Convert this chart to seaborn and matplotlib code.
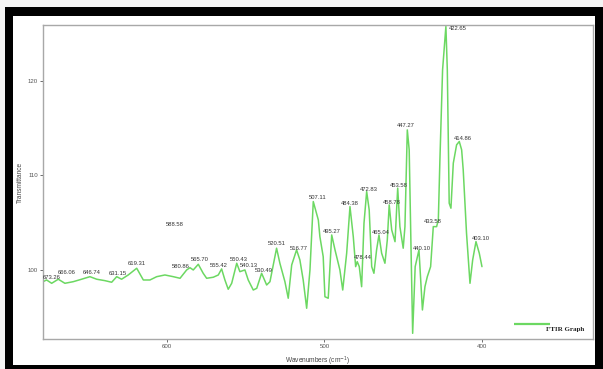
import matplotlib
matplotlib.use("Agg")
import matplotlib.pyplot as plt
import seaborn as sns
import pandas as pd
from matplotlib.patches import Rectangle

# Spectrum
wavenumber = [678.7, 676.4, 673.2, 669.0, 664.8, 659.5, 654.2, 648.9, 644.6, 639.4,
              635.1, 631.9, 628.8, 624.6, 619.2, 615.0, 610.8, 606.5, 601.3, 596.0,
              591.7, 587.5, 585.4, 583.3, 580.1, 577.0, 574.8, 570.6, 567.4, 565.3,
              563.2, 561.1, 558.9, 555.7, 553.7, 550.5, 548.4, 545.2, 543.0, 539.9,
              536.7, 534.6, 530.4, 528.3, 525.1, 523.0, 520.8, 517.7, 515.6, 513.5,
              511.3, 509.2, 507.1, 503.9, 502.9, 500.8, 499.7, 497.6, 495.4, 493.3,
              490.2, 488.4, 485.9, 483.8, 481.7, 480.2, 479.2, 477.9, 476.4, 474.9,
              473.2, 471.6, 470.0, 468.6, 466.9, 465.4, 463.7, 461.6, 460.1, 458.9,
              457.3, 455.2, 453.5, 452.1, 450.0, 448.9, 447.4, 446.2, 445.1, 444.0,
              442.4, 440.0, 437.8, 436.2, 434.7, 432.6, 430.9, 428.8, 427.7, 426.7,
              425.0, 422.9, 422.0, 420.8, 419.7, 418.2, 416.1, 414.4, 412.9, 411.9,
              409.8, 407.6, 405.9, 403.8, 401.7, 400.0]
transmittance = [98.76, 98.94, 98.59, 99.02, 98.59, 98.76, 99.02, 99.29, 99.02, 98.87,
                 98.70, 99.29, 99.02, 99.47, 100.18, 98.94, 98.94, 99.29, 99.47, 99.29,
                 99.12, 100.0, 100.24, 100.0, 100.60, 99.65, 99.12, 99.23, 99.47, 100.11,
                 98.94, 97.96, 98.59, 100.71, 99.82, 100.0, 98.94, 97.88, 98.06, 99.65,
                 98.41, 98.76, 102.30, 100.71, 98.76, 97.01, 100.53, 102.12, 101.06, 98.94,
                 95.95, 100.0, 107.23, 105.29, 103.52, 101.41, 97.17, 97.01, 103.70, 102.12,
                 100.0, 97.88, 101.77, 106.70, 103.52, 100.35, 100.88, 100.35, 98.23, 104.94,
                 108.29, 106.35, 100.35, 99.65, 102.12, 103.70, 101.77, 100.71, 103.17, 106.88,
                 104.23, 102.99, 108.65, 104.58, 102.30, 104.58, 114.81, 112.70, 102.83, 93.30,
                 100.35, 102.12, 95.77, 98.23, 99.29, 100.35, 104.58, 104.58, 105.29, 111.64,
                 121.16, 125.75, 121.16, 107.06, 106.53, 111.29, 113.23, 113.58, 112.70, 110.58,
                 103.88, 98.59, 101.06, 103.0, 101.77, 100.35]

# Peak labels (text, wavenumber, transmittance where the label sits)
peak_text = ["673.26", "666.06", "646.74", "631.15", "619.31", "588.58", "580.86",
             "565.70", "555.42", "550.43", "540.13", "530.49", "520.51", "516.77",
             "507.11", "495.27", "484.38", "478.44", "472.83", "465.04", "458.78",
             "453.58", "447.27", "440.10", "433.58", "422.65", "414.86", "403.10"]
peak_x = [673.3, 663.8, 647.9, 631.1, 619.4, 595.2, 591.1, 579.0, 567.3, 554.6,
          548.3, 538.7, 530.2, 516.2, 504.4, 495.2, 483.8, 475.9, 472.1, 464.4,
          457.5, 453.0, 448.3, 438.1, 431.4, 415.2, 412.4, 400.9]
peak_y = [99.15, 99.68, 99.68, 99.63, 100.63, 104.76, 100.32, 101.06, 100.42, 101.06,
          100.42, 99.89, 102.75, 102.22, 107.62, 104.02, 106.98, 101.27, 108.47, 103.92,
          107.09, 108.89, 115.24, 102.22, 105.08, 125.50, 113.86, 103.28]

xticks = [600, 500, 400]
yticks = [100, 110, 120]

sns.set_theme(style="white")
plt.rcParams["font.family"] = ["Liberation Sans", "DejaVu Sans"]

df = pd.DataFrame({"wavenumber": wavenumber, "transmittance": transmittance})

fig = plt.figure(figsize=(6.03, 3.69), dpi=100)
fig.patch.set_facecolor("#f4f4f4")

# Black picture frame, kept behind the axes
fig.patches.append(Rectangle((5 / 603, 0), 598 / 603, 362 / 369,
                             transform=fig.transFigure, facecolor="black",
                             edgecolor="none", zorder=-10))
fig.patches.append(Rectangle((13 / 603, 4 / 369), 582 / 603, 349 / 369,
                             transform=fig.transFigure, facecolor="white",
                             edgecolor="none", zorder=-9))

ax = fig.add_axes([43 / 603, 30 / 369, 550 / 603, 314 / 369])
ax.set_facecolor("white")

green = "#6cd862"
sns.lineplot(data=df, x="wavenumber", y="transmittance", ax=ax, sort=False,
             color=green, linewidth=1.1)

ax.set_xlim(678.7, 329.5)
ax.set_ylim(92.7, 125.9)
ax.set_xticks(xticks)
ax.set_yticks(yticks)
ax.tick_params(axis="both", labelsize=4.4, colors="#555555", length=2,
               width=0.6, pad=1.5, direction="out", left=True, bottom=True)
for s in ax.spines.values():
    s.set_color("#a8a8a8")
    s.set_linewidth(1.0)

ax.set_xlabel("Wavenumbers (cm$^{-1}$)", fontsize=4.7, color="#444444", labelpad=4)
ax.set_ylabel("Transmittance", fontsize=4.7, color="#444444", labelpad=3)

for t, x, y in zip(peak_text, peak_x, peak_y):
    ax.text(x, y, t, fontsize=4.2, color="#333333", ha="center", va="center")

# Legend drawn like the original (line with caption beneath)
ax.plot([0.856, 0.922], [0.048, 0.048], transform=ax.transAxes,
        color=green, linewidth=1.6, solid_capstyle="butt")
ax.text(0.949, 0.029, "FTIR Graph", transform=ax.transAxes, fontsize=5,
        fontweight="bold", family=["Liberation Serif", "DejaVu Serif"],
        color="#222222", ha="center", va="center")

fig.savefig("out.png", dpi=100, facecolor=fig.get_facecolor())
